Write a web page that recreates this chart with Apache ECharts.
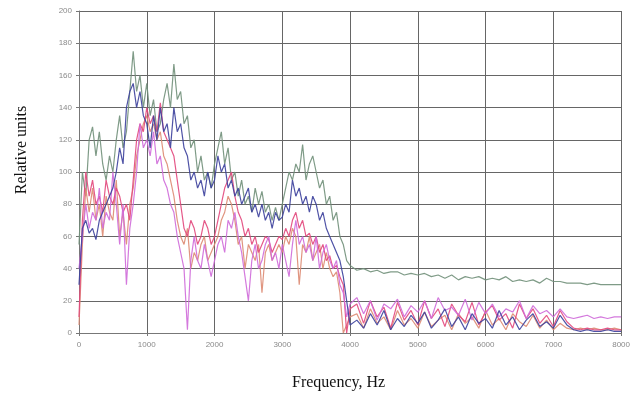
<!DOCTYPE html>
<html>
<head>
<meta charset="utf-8">
<style>
  html, body { margin: 0; padding: 0; background: #fff; }
  #chart { width: 633px; height: 396px; }
</style>
<script src="https://cdn.jsdelivr.net/npm/echarts@6/dist/echarts.min.js"></script>
</head>
<body>
<div id="chart"></div>
<script>
// frequencies, Hz (50 Hz steps to 4000, then 100 Hz steps)
const freq = [
  0, 50, 100, 150, 200, 250, 300, 350, 400, 450,
  500, 550, 600, 650, 700, 750, 800, 850, 900, 950,
  1000, 1050, 1100, 1150, 1200, 1250, 1300, 1350, 1400, 1450,
  1500, 1550, 1600, 1650, 1700, 1750, 1800, 1850, 1900, 1950,
  2000, 2050, 2100, 2150, 2200, 2250, 2300, 2350, 2400, 2450,
  2500, 2550, 2600, 2650, 2700, 2750, 2800, 2850, 2900, 2950,
  3000, 3050, 3100, 3150, 3200, 3250, 3300, 3350, 3400, 3450,
  3500, 3550, 3600, 3650, 3700, 3750, 3800, 3850, 3900, 3950,
  4000,
  4100, 4200, 4300, 4400, 4500, 4600, 4700, 4800, 4900, 5000,
  5100, 5200, 5300, 5400, 5500, 5600, 5700, 5800, 5900, 6000,
  6100, 6200, 6300, 6400, 6500, 6600, 6700, 6800, 6900, 7000,
  7100, 7200, 7300, 7400, 7500, 7600, 7700, 7800, 7900, 8000
]

const greenVals = [
  55, 100, 85, 120, 128, 110, 125, 105, 95, 110,
  100, 120, 135, 115, 125, 150, 175, 150, 160, 140,
  155, 135, 145, 125, 130, 145, 155, 140, 167, 145,
  150, 130, 135, 115, 120, 100, 110, 95, 100, 90,
  105, 115, 125, 105, 115, 95, 100, 85, 95, 80,
  85, 75, 90, 80, 88, 75, 80, 70, 78, 70,
  80, 90, 100, 95, 105, 100, 117, 95, 105, 110,
  100, 90, 95, 80, 85, 70, 75, 60, 55, 45,
  42,
  39, 40, 38, 39, 37, 38, 38, 36, 37, 36,
  37, 35, 36, 34, 36, 33, 35, 34, 35, 33,
  34, 33, 35, 32, 33, 32, 33, 31, 34, 32,
  32, 31, 31, 31, 30, 31, 30, 30, 30, 30
]

const salmonVals = [
  5, 55, 90, 75, 90, 70, 80, 60, 85, 75,
  70, 95, 60, 75, 55, 80, 90, 110, 120, 130,
  135, 125, 130, 120, 125, 110, 105, 95, 85, 70,
  60, 55, 65, 40, 50, 45, 55, 60, 45, 50,
  55, 60, 70, 75, 85, 80, 70, 55, 60, 40,
  55, 50, 45, 55, 25, 50, 55, 45, 50, 55,
  50, 60, 55, 65, 60, 30, 55, 50, 60, 45,
  50, 55, 40, 50, 40, 35, 38, 25, 0, 5,
  10,
  12, 3, 15, 6, 10, 2, 14, 5, 9, 3,
  13, 4, 8, 11, 2, 12, 6, 10, 3, 14,
  5, 9, 2, 12, 7, 4, 11, 3, 8, 2,
  6, 3, 2, 3, 2, 3, 2, 2, 3, 2
]

const crimsonVals = [
  10, 70, 100, 85, 95, 80, 85, 75, 95, 85,
  80, 90, 85, 75, 80, 70, 95, 120, 130, 125,
  140, 130, 135, 125, 143, 125, 120, 115, 110, 95,
  80, 65, 60, 70, 65, 55, 60, 70, 65, 55,
  60, 70, 80, 90, 95, 100, 85, 75, 70, 60,
  65, 55, 60, 50, 55, 60, 58, 50, 55, 60,
  58, 65, 60, 70, 75, 65, 70, 60, 62, 55,
  60, 50, 55, 45, 48, 40, 42, 35, 30, 0,
  15,
  18, 6, 20, 10, 16, 3, 19, 8, 14, 5,
  20, 9, 15, 4, 18, 11, 7, 19, 5, 13,
  17, 8, 12, 3, 18, 9, 15, 6, 11, 4,
  14, 7, 3, 2, 3, 2, 2, 3, 2, 2
]

const magentaVals = [
  40, 60, 80, 65, 75, 70, 90, 65, 75, 70,
  100, 80, 55, 80, 30, 65, 80, 100, 130, 115,
  120, 110, 125, 105, 110, 95, 90, 80, 75, 60,
  50, 40, 2, 45, 60, 45, 40, 55, 45, 35,
  45, 55, 60, 50, 70, 65, 75, 60, 50, 35,
  20, 45, 55, 40, 45, 55, 60, 45, 50, 40,
  55, 45, 35, 55, 70, 55, 60, 50, 55, 45,
  60, 40, 50, 55, 45, 40, 45, 30, 25, 10,
  18,
  22, 12, 20, 8, 18, 15, 21, 10, 17, 13,
  20, 9, 22, 14, 16, 11, 21, 8, 19, 12,
  18, 10, 15, 13, 20, 9, 17, 12, 14, 10,
  15, 10, 9, 10, 11, 9, 10, 9, 10, 10
]

const navyVals = [
  30, 65, 70, 62, 65, 58, 70, 75, 80, 85,
  90, 100, 115, 105, 140, 150, 155, 140, 150, 135,
  130, 115, 135, 120, 140, 125, 130, 115, 140, 125,
  130, 115, 110, 95, 100, 90, 95, 85, 100, 90,
  95, 110, 100, 105, 90, 95, 85, 90, 80, 85,
  90, 75, 80, 72, 80, 70, 75, 65, 75, 70,
  72, 80, 75, 95, 85, 90, 80, 85, 75, 85,
  80, 70, 75, 65, 60, 55, 50, 45, 35, 20,
  5,
  8, 3, 12, 5, 14, 2, 9, 4, 11, 6,
  13, 3, 8, 15, 4, 10, 2, 12, 6, 9,
  3, 14, 5, 10, 2, 8, 12, 4, 7, 3,
  11, 5, 2, 1, 2, 1, 1, 2, 1, 1
]

const yTicks = [0, 20, 40, 60, 80, 100, 120, 140, 160, 180, 200]

const lines = [
  { name: 'green', color: '#71907a', values: greenVals },
  { name: 'salmon', color: '#dd8a72', values: salmonVals },
  { name: 'crimson', color: '#e2477c', values: crimsonVals },
  { name: 'magenta', color: '#cf6ad9', values: magentaVals },
  { name: 'navy', color: '#3c409c', values: navyVals }
]

const chart = echarts.init(document.getElementById('chart'))

chart.setOption({
  backgroundColor: '#fff',
  animation: false,
  grid: { left: 79, right: 7, top: 11, bottom: 63 },
  xAxis: {
    type: 'value',
    min: 0,
    max: 8000,
    interval: 1000,
    axisLine: { show: true, lineStyle: { color: '#777', width: 1 } },
    axisTick: { show: true, length: 3, lineStyle: { color: '#777' } },
    splitLine: { show: true, lineStyle: { color: '#666', width: 1 } },
    axisLabel: {
      color: '#8a8a8a',
      fontSize: 8,
      fontFamily: 'Liberation Sans',
      margin: 8,
      formatter: (v) => String(v)
    }
  },
  yAxis: {
    type: 'value',
    min: yTicks[0],
    max: yTicks[yTicks.length - 1],
    interval: 20,
    axisLine: { show: true, lineStyle: { color: '#777', width: 1 } },
    axisTick: { show: true, length: 3, lineStyle: { color: '#777' } },
    splitLine: { show: true, lineStyle: { color: '#666', width: 1 } },
    axisLabel: { color: '#8a8a8a', fontSize: 8, fontFamily: 'Liberation Sans', margin: 7 }
  },
  graphic: [
    {
      type: 'text',
      left: 352 - 60,
      top: 375,
      style: {
        text: 'Frequency, Hz',
        font: '16px "Liberation Serif"',
        fill: '#111',
        width: 120,
        align: 'center'
      }
    },
    {
      type: 'text',
      x: 22,
      y: 150,
      rotation: Math.PI / 2,
      style: {
        text: 'Relative units',
        font: '16px "Liberation Serif"',
        fill: '#111',
        align: 'center',
        verticalAlign: 'middle'
      }
    }
  ],
  series: lines.map((l) => ({
    name: l.name,
    type: 'line',
    showSymbol: false,
    smooth: false,
    lineStyle: { color: l.color, width: 1.2, opacity: 0.9 },
    data: freq.map((f, i) => [f, l.values[i]])
  }))
})
</script>
</body>
</html>
